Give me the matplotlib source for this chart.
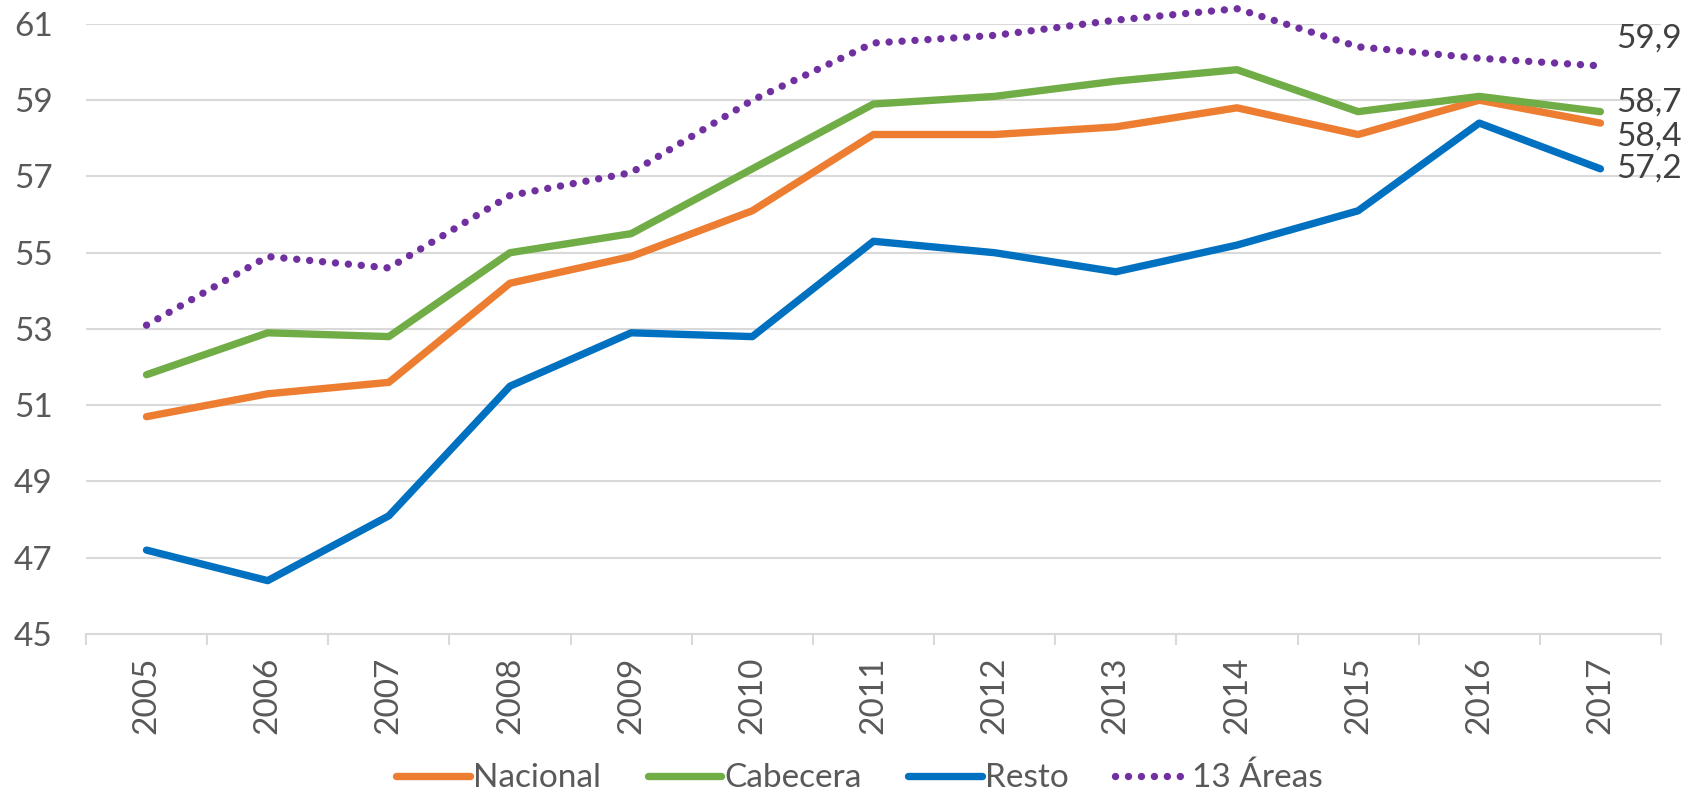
import matplotlib
matplotlib.use("Agg")
import matplotlib.pyplot as plt
from matplotlib.lines import Line2D

plt.rcParams['font.family'] = ['Lato', 'DejaVu Sans']

years = ["2005", "2006", "2007", "2008", "2009", "2010", "2011",
         "2012", "2013", "2014", "2015", "2016", "2017"]
nacional = [50.7, 51.3, 51.6, 54.2, 54.9, 56.1, 58.1, 58.1, 58.3, 58.8, 58.1, 59.0, 58.4]
cabecera = [51.8, 52.9, 52.8, 55.0, 55.5, 57.2, 58.9, 59.1, 59.5, 59.8, 58.7, 59.1, 58.7]
resto = [47.2, 46.4, 48.1, 51.5, 52.9, 52.8, 55.3, 55.0, 54.5, 55.2, 56.1, 58.4, 57.2]
areas13 = [53.1, 54.9, 54.6, 56.5, 57.1, 59.0, 60.5, 60.7, 61.1, 61.4, 60.4, 60.1, 59.9]
end_labels = ["58,4", "58,7", "57,2", "59,9"]
yticks = [45, 47, 49, 51, 53, 55, 57, 59, 61]

c_nac = "#ED7D31"
c_cab = "#70AD47"
c_res = "#0070C0"
c_are = "#7030A0"
grid_c = "#D9D9D9"
txt_c = "#595959"

fig = plt.figure(figsize=(17.02, 7.98), dpi=100)
ax = fig.add_axes([0.0505, 0.2055, 0.9254, 0.7645])

x = list(range(len(years)))
lw = 5.3
dots = (0, (0.01, 1.75))
ax.plot(x, nacional, color=c_nac, lw=lw, solid_capstyle='round', solid_joinstyle='round', zorder=3, clip_on=False)
ax.plot(x, cabecera, color=c_cab, lw=lw, solid_capstyle='round', solid_joinstyle='round', zorder=3, clip_on=False)
ax.plot(x, resto, color=c_res, lw=lw, solid_capstyle='round', solid_joinstyle='round', zorder=3, clip_on=False)
ax.plot(x, areas13, color=c_are, lw=lw, linestyle=dots, dash_capstyle='round', zorder=3, clip_on=False)

ax.set_xlim(-0.5, len(years) - 0.5)
ax.set_ylim(45, 61)
ax.set_yticks(yticks)
ax.set_yticklabels([str(v) for v in yticks])
ax.set_xticks(x)
ax.set_xticklabels(years, rotation=90)
ax.set_xticks([i - 0.5 for i in range(len(years) + 1)], minor=True)

ax.tick_params(axis='y', length=0, pad=24, labelsize=24, labelcolor=txt_c)
ax.tick_params(axis='x', which='major', length=0, pad=16, labelsize=24, labelcolor=txt_c)
ax.tick_params(axis='x', which='minor', length=8, width=1.5, color=grid_c)

ax.grid(axis='y', color=grid_c, lw=1.5, zorder=0)
ax.set_axisbelow(True)
for s in ['top', 'right', 'left']:
    ax.spines[s].set_visible(False)
ax.spines['bottom'].set_color(grid_c)
ax.spines['bottom'].set_linewidth(1.5)

# end labels
last = len(years) - 1
series_last = [nacional[last], cabecera[last], resto[last], areas13[last]]
offsets = [-13, 9, 0, 27]
for val, lab, off in zip(series_last, end_labels, offsets):
    ax.annotate(lab, xy=(last, val), xytext=(16, off), textcoords='offset pixels',
                ha='left', va='center', fontsize=24, color="#404040", annotation_clip=False)

handles = [
    Line2D([], [], color=c_nac, lw=lw, solid_capstyle='round'),
    Line2D([], [], color=c_cab, lw=lw, solid_capstyle='round'),
    Line2D([], [], color=c_res, lw=lw, solid_capstyle='round'),
    Line2D([], [], color=c_are, lw=lw, linestyle=dots, dash_capstyle='round'),
]
labels = ["Nacional", "Cabecera", "Resto", "13 Áreas"]
leg = fig.legend(handles, labels, loc='center', bbox_to_anchor=(0.505, 0.025), ncol=4,
                 frameon=False, fontsize=24, handlelength=2.2, handletextpad=0.1,
                 columnspacing=1.4, labelcolor=txt_c)

fig.savefig("out.png", dpi=100)
